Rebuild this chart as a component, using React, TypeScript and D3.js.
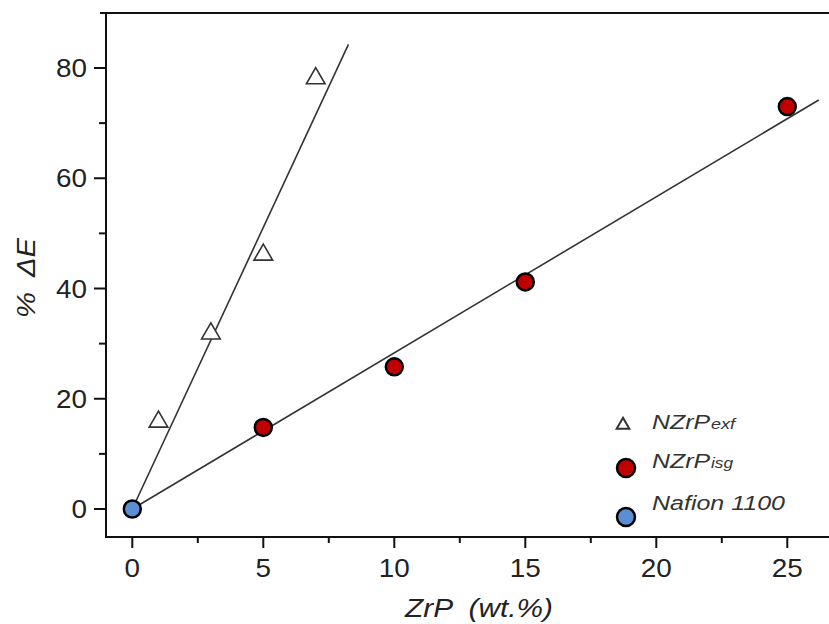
import React, { useEffect, useRef } from "react";
import * as d3 from "d3";

const W = 829;
const H = 624;

// data
const exfX = [1, 3, 5, 7];
const exfY = [16, 32, 46.3, 78.3];
const isgX = [5, 10, 15, 25];
const isgY = [14.8, 25.8, 41.2, 73];
const nafionX = [0];
const nafionY = [0];

// fitted lines (end points)
const exfFitX = [0, 8.25];
const exfFitY = [0, 84.3];
const isgFitX = [0, 26.2];
const isgFitY = [0, 74.2];

const xMajor = [0, 5, 10, 15, 20, 25];
const xMinor = [2.5, 7.5, 12.5, 17.5, 22.5];
const yMajor = [0, 20, 40, 60, 80];
const yMinor = [10, 30, 50, 70];

const RED = "#c00000";
const BLUE = "#5a8fd6";
const FONT = "'Liberation Sans', Arial, sans-serif";

export default function App() {
  const svgRef = useRef<SVGSVGElement>(null);

  useEffect(() => {
    const svg = d3.select(svgRef.current);
    svg.selectAll("*").remove();

    const left = 106, right = 829, top = 13, bottom = 537;
    const x = d3.scaleLinear().domain([0, 25]).range([132.3, 787.3]);
    const y = d3.scaleLinear().domain([0, 80]).range([509, 68]);

    svg.append("rect").attr("width", W).attr("height", H).attr("fill", "#fff");

    const g = svg.append("g");

    // frame
    g.append("line").attr("x1", 100).attr("x2", right).attr("y1", top).attr("y2", top)
      .attr("stroke", "#111").attr("stroke-width", 2.2);
    g.append("line").attr("x1", left).attr("x2", left).attr("y1", top).attr("y2", bottom)
      .attr("stroke", "#111").attr("stroke-width", 2);
    g.append("line").attr("x1", left - 1).attr("x2", right).attr("y1", bottom).attr("y2", bottom)
      .attr("stroke", "#111").attr("stroke-width", 2);

    // y ticks
    g.selectAll(".ymaj").data(yMajor).enter().append("line")
      .attr("x1", left - 12).attr("x2", left).attr("y1", d => y(d)).attr("y2", d => y(d))
      .attr("stroke", "#111").attr("stroke-width", 2);
    g.selectAll(".ymin").data(yMinor).enter().append("line")
      .attr("x1", left - 7).attr("x2", left).attr("y1", d => y(d)).attr("y2", d => y(d))
      .attr("stroke", "#111").attr("stroke-width", 2);
    g.selectAll(".ylab").data(yMajor).enter().append("text")
      .attr("x", 87).attr("y", d => y(d) + 9)
      .attr("text-anchor", "end").attr("font-family", FONT).attr("font-size", 25)
      .attr("textLength", d => String(d).length * 15.5).attr("lengthAdjust", "spacingAndGlyphs")
      .attr("fill", "#222").text(d => d);

    // x ticks
    g.selectAll(".xmaj").data(xMajor).enter().append("line")
      .attr("x1", d => x(d)).attr("x2", d => x(d)).attr("y1", bottom).attr("y2", bottom + 11)
      .attr("stroke", "#111").attr("stroke-width", 2);
    g.selectAll(".xmin").data(xMinor).enter().append("line")
      .attr("x1", d => x(d)).attr("x2", d => x(d)).attr("y1", bottom).attr("y2", bottom + 6)
      .attr("stroke", "#111").attr("stroke-width", 2);
    g.selectAll(".xlab").data(xMajor).enter().append("text")
      .attr("x", d => x(d)).attr("y", 577)
      .attr("text-anchor", "middle").attr("font-family", FONT).attr("font-size", 25)
      .attr("textLength", d => String(d).length * 15.5).attr("lengthAdjust", "spacingAndGlyphs")
      .attr("fill", "#222").text(d => d);

    // axis titles
    g.append("text").attr("x", 405).attr("y", 617)
      .attr("font-family", FONT).attr("font-size", 25).attr("font-style", "italic")
      .attr("textLength", 148).attr("lengthAdjust", "spacingAndGlyphs")
      .attr("fill", "#222").attr("xml:space", "preserve").text("ZrP  (wt.%)");
    g.append("text").attr("transform", "translate(35,318) rotate(-90)")
      .attr("font-family", FONT).attr("font-size", 26)
      .attr("textLength", 80).attr("lengthAdjust", "spacingAndGlyphs")
      .attr("font-style", "italic").attr("fill", "#222").attr("xml:space", "preserve")
      .text("%  ΔE");

    // fit lines
    const line = d3.line<[number, number]>().x(d => x(d[0])).y(d => y(d[1]));
    g.append("path").attr("d", line(d3.zip(exfFitX, exfFitY) as [number, number][]))
      .attr("fill", "none").attr("stroke", "#333").attr("stroke-width", 1.6);
    g.append("path").attr("d", line(d3.zip(isgFitX, isgFitY) as [number, number][]))
      .attr("fill", "none").attr("stroke", "#333").attr("stroke-width", 1.6);

    // triangles
    const tri = d3.symbol().type(d3.symbolTriangle).size(150);
    g.selectAll(".tri").data(d3.zip(exfX, exfY)).enter().append("path")
      .attr("d", tri)
      .attr("transform", d => `translate(${x(d[0])},${y(d[1]) + 1})`)
      .attr("fill", "#fff").attr("stroke", "#333").attr("stroke-width", 1.6);

    // circles
    g.selectAll(".isg").data(d3.zip(isgX, isgY)).enter().append("circle")
      .attr("cx", d => x(d[0])).attr("cy", d => y(d[1])).attr("r", 8.5)
      .attr("fill", RED).attr("stroke", "#000").attr("stroke-width", 2.5);
    g.selectAll(".naf").data(d3.zip(nafionX, nafionY)).enter().append("circle")
      .attr("cx", d => x(d[0])).attr("cy", d => y(d[1])).attr("r", 8.5)
      .attr("fill", BLUE).attr("stroke", "#000").attr("stroke-width", 2.5);

    // legend
    const lg = g.append("g").attr("font-family", FONT).attr("font-style", "italic").attr("fill", "#333");
    lg.append("path").attr("d", d3.symbol().type(d3.symbolTriangle).size(70)())
      .attr("transform", "translate(623,425)")
      .attr("fill", "#fff").attr("stroke", "#333").attr("stroke-width", 2);
    lg.append("circle").attr("cx", 626).attr("cy", 468).attr("r", 9)
      .attr("fill", RED).attr("stroke", "#000").attr("stroke-width", 2.5);
    lg.append("circle").attr("cx", 626).attr("cy", 517).attr("r", 9)
      .attr("fill", BLUE).attr("stroke", "#000").attr("stroke-width", 2.5);

    const legendText = (yb: number, main: string, sub: string, subLen: number) => {
      lg.append("text").attr("x", 652).attr("y", yb).attr("font-size", 20)
        .attr("textLength", 58).attr("lengthAdjust", "spacingAndGlyphs").text(main);
      lg.append("text").attr("x", 711).attr("y", yb).attr("font-size", 15)
        .attr("textLength", subLen).attr("lengthAdjust", "spacingAndGlyphs").text(sub);
    };
    legendText(429, "NZrP", "exf", 24);
    legendText(468, "NZrP", "isg", 22);
    lg.append("text").attr("x", 652).attr("y", 510).attr("font-size", 20)
      .attr("textLength", 133).attr("lengthAdjust", "spacingAndGlyphs").text("Nafion 1100");
  }, []);

  return (
    <svg
      ref={svgRef}
      width={W}
      height={H}
      style={{ position: "absolute", left: 0, top: 0 }}
    />
  );
}
